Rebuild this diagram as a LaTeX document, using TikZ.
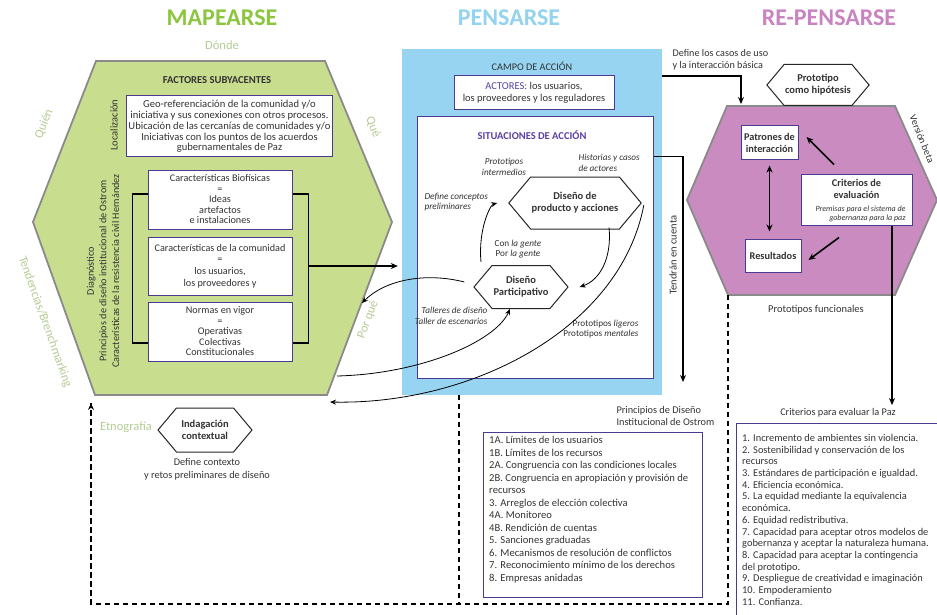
\documentclass[tikz,border=0pt]{standalone}
\usepackage{fontspec}
\setmainfont{Carlito}
\usetikzlibrary{positioning,arrows.meta,shapes.symbols}

\definecolor{mapgreen}{HTML}{8CC63F}
\definecolor{pengblue}{HTML}{93D3EF}
\definecolor{repink}{HTML}{C983C1}
\definecolor{hexgreen}{HTML}{C8DE8E}
\definecolor{fieldblue}{HTML}{96D4F1}
\definecolor{hexpurple}{HTML}{C98BC0}
\definecolor{softgreen}{HTML}{B5CB94}
\definecolor{boxline}{HTML}{4B3A92}
\definecolor{labelpurple}{HTML}{5B40A3}
\definecolor{inktext}{HTML}{333333}
\definecolor{hexline}{HTML}{8A8A8A}

\newcommand{\setfs}[2]{\fontsize{#1}{#2}\selectfont\lineskiplimit=-20pt\relax}

\begin{document}
\begin{tikzpicture}[
  x=1pt, y=-1pt,
  every node/.style={text=inktext, font=\setfs{10.5}{12}},
  title/.style={font=\setfs{24}{26}\bfseries},
  side/.style={text=softgreen, font=\setfs{12.5}{14}},
  bighex/.style={draw=hexline, line width=1.8pt, line join=miter},
  infobox/.style={draw=boxline, fill=white, line width=1pt, align=center, inner sep=2pt},
  hexnode/.style={signal, signal to=east and west, signal pointer angle=100,
    draw=black!85, fill=white, line width=1pt, align=center, inner sep=1pt,
    font=\setfs{10.5}{12}\bfseries},
  note/.style={font=\setfs{9.2}{10.5}\itshape},
  listtext/.style={align=left, anchor=north west, inner sep=0pt, font=\setfs{10.6}{12.5}},
  flow/.style={line width=1.6pt, -{Stealth[length=7pt,width=6pt]}},
  curve/.style={line width=0.8pt, -{Stealth[length=6pt,width=5pt]}},
  dashflow/.style={line width=1.6pt, dash pattern=on 5pt off 4pt},
  ]
  \useasboundingbox (0,0) rectangle (937,615);

  % titles
  \node[title, text=mapgreen] (maptitle) at (222,18) {MAPEARSE};
  \node[title, text=pengblue] (pentitle) at (509,18) {PENSARSE};
  \node[title, text=repink] (retitle) at (829,18) {RE-PENSARSE};

  % mapearse
  \coordinate (lt) at (96,61);
  \coordinate (rt) at (325,61);
  \coordinate (rm) at (392,222);
  \coordinate (rb) at (327,395);
  \coordinate (lb) at (95,395);
  \coordinate (lm) at (33,222);
  \draw[bighex, fill=hexgreen] (lt) -- (rt) -- (rm) -- (rb) -- (lb) -- (lm) -- cycle;

  \node[side] (donde) at (222,45) {Dónde};
  \node[side, rotate=68.6] (quien) at (44,124) {Quién};
  \node[side, rotate=-67.4] (que) at (373,127) {Qué};
  \node[side, rotate=69.4] (porque) at (368,320) {Por qué};
  \node[side, rotate=-70.3] (tendencias) at (45,322) {Tendencias/Brenchmarking};
  \node[side] (etno) at (126,427) {Etnografía};

  \node[font=\setfs{10.6}{12}\bfseries] (factores) at (217,80) {FACTORES SUBYACENTES};
  \node[rotate=90] (local) at (114,125) {Localización};
  \node[infobox, minimum width=203pt, minimum height=61pt, font=\setfs{10.6}{10.8}] (geo) at (229.5,126.5)
    {Geo-referenciación de la comunidad y/o\\iniciativa y sus conexiones con otros procesos.\\Ubicación de las cercanías de comunidades y/o\\Iniciativas con los puntos de los acuerdos\\gubernamentales de Paz};
  \node[infobox, minimum width=144pt, minimum height=59pt, font=\setfs{10.2}{10.5}] (bio) at (220,199.5)
    {Características Biofísicas\\=\\Ideas\\artefactos\\e instalaciones};
  \node[infobox, minimum width=144pt, minimum height=58pt, font=\setfs{10.2}{11.8}] (comunidad) at (220,266)
    {Características de la comunidad\\=\\los usuarios,\\los proveedores y};
  \node[infobox, minimum width=144pt, minimum height=59pt, font=\setfs{10.2}{10.5}] (normas) at (220,331.5)
    {Normas en vigor\\=\\Operativas\\Colectivas\\Constitucionales};
  \node[rotate=90, align=center, font=\setfs{10.2}{12.7}] (diag) at (103,271)
    {Diagnóstico\\Principios de diseño institucional de Ostrom\\Características de la resistencia civil Hernández};

  \draw[line width=1.6pt] ([yshift=5.5pt]bio.west) -- ++(-15,0) coordinate (brL) |- ([yshift=-11.5pt]normas.west);
  \draw[line width=1.6pt] ([yshift=5.5pt]bio.east) -- ++(16,0) coordinate (brR) |- ([yshift=-11.5pt]normas.east);

  % pensarse
  \node[fill=fieldblue, minimum width=260pt, minimum height=346pt, inner sep=0pt] (campo) at (532,222) {};
  \draw[flow, shorten >=4pt] (brR |- comunidad.east) -- (brR |- comunidad.east -| campo.west);
  \node[font=\setfs{10.2}{12}] (campotitle) at (532,66) {CAMPO DE ACCIÓN};
  \node[infobox, minimum width=160pt, minimum height=34pt, font=\setfs{10.5}{12.5}] (actores) at (534,93)
    {\textcolor{labelpurple}{ACTORES:} los usuarios,\\los proveedores y los reguladores};
  \node[infobox, minimum width=236pt, minimum height=261pt] (situ) at (535,247.5) {};
  \node[text=labelpurple, font=\setfs{10.5}{12}\bfseries] (situtitle) at (532,135) {SITUACIONES DE ACCIÓN};

  \node[hexnode, minimum width=107pt, minimum height=52pt] (producto) at (575,203) {Diseño de\\producto y acciones};
  \node[hexnode, minimum width=94pt, minimum height=43pt] (partic) at (521,287) {Diseño\\Participativo};

  \node[note, align=center] (intermedios) at (504,167) {Prototipos\\intermedios};
  \node[note, align=left, anchor=west] (historias) at (575,163) {Historias y casos\\de actores};
  \node[note, align=left, anchor=west] (conceptos) at (421,202) {Define conceptos\\preliminares};
  \node[note, align=center] (gente) at (518,249) {{\upshape Con} la gente\\{\upshape Por} la gente};
  \node[note, align=right, anchor=east] (talleres) at (491,316) {Talleres de diseño\\Taller de escenarios};
  \node[note, align=right, anchor=east] (ligeros) at (642,329) {{\upshape Prototipos} ligeros\\{\upshape Prototipos} mentales};

  \coordinate (pqedge) at (362,303);
  \coordinate (lowedge) at (337,376);
  \coordinate (baseedge) at (330,402);
  \draw[curve] ([xshift=-9pt,yshift=5pt]partic.west) .. controls (425,272) and (385,280) .. (pqedge);
  \draw[curve] (lowedge) .. controls (420,374) and (495,342) .. ([xshift=-11pt]partic.south);
  \draw[curve] ([xshift=2pt,yshift=-2pt]producto.east) .. controls (620,330) and (470,405) .. (baseedge);
  \draw[curve] ([xshift=-40pt,yshift=3pt]partic.north) .. controls (478,230) and (490,205) .. ([xshift=-11pt]producto.west);
  \draw[curve] ([xshift=34pt,yshift=2pt]producto.south) .. controls (612,258) and (600,280) .. ([xshift=11pt]partic.east);

  % re-pensarse
  \coordinate (qt) at (727,106);
  \coordinate (qr) at (895,106);
  \coordinate (qm) at (937,200);
  \coordinate (qb) at (895,295);
  \coordinate (ql) at (728,295);
  \coordinate (qn) at (687,200);
  \draw[bighex, fill=hexpurple] (qt) -- (qr) -- (qm) -- (qb) -- (ql) -- (qn) -- cycle;
  \node[rotate=-68, font=\setfs{10}{12}] (beta) at (922,139) {Versión beta};
  \node[hexnode, minimum width=89pt, minimum height=41pt] (proto) at (818,85) {Prototipo\\como hipótesis};

  \node[infobox, minimum width=57pt, minimum height=34pt, font=\setfs{10.3}{11.8}\bfseries] (patrones) at (769.5,143) {Patrones de\\interacción};
  \node[infobox, minimum width=111pt, minimum height=51pt] (criterios) at (856.5,199.5) {};
  \node[align=center, font=\setfs{10.3}{11.8}\bfseries] (critname) at (856.5,189) {Criterios de\\evaluación};
  \node[align=right, anchor=east, font=\setfs{8}{9.8}\itshape] (premisas) at (909,214) {Premisas para el sistema de\\gobernanza para la paz};
  \node[infobox, minimum width=56pt, minimum height=33pt, font=\setfs{10.3}{11.8}\bfseries] (resultados) at (773,255.5) {Resultados};

  \draw[line width=1.6pt, {Stealth[length=7pt,width=6pt]}-{Stealth[length=7pt,width=6pt]}, shorten <=5pt, shorten >=7pt]
    (patrones.south) -- (patrones.south |- resultados.north);
  \draw[flow] ([xshift=-22.5pt,yshift=9pt]criterios.north) -- ([xshift=8pt,yshift=6pt]patrones.east);
  \draw[flow] ([xshift=-17.5pt,yshift=-12pt]criterios.south) -- ([xshift=7pt,yshift=-4.5pt]resultados.east);
  \node (funcionales) at (816,310) {Prototipos funcionales};

  \coordinate (qin) at (741,104);
  \coordinate (tendend) at (683,382);
  \node[font=\setfs{10.2}{12.5}, align=left, anchor=west] (casos) at (669,60) {Define los casos de uso\\y la interacción básica};
  \draw[flow] ([yshift=-27pt]campo.north east) -| (qin);
  \draw[flow] ([yshift=-40pt]situ.north east) -| (tendend);
  \node[rotate=90] (tendran) at (673,255) {Tendrán en cuenta};

  % mapearse bottom
  \node[hexnode, minimum width=94pt, minimum height=44pt] (indag) at (205,430) {Indagación\\contextual};
  \node[align=center, font=\setfs{10.3}{13}] (contexto) at (207,469) {Define contexto\\y retos preliminares de diseño};

  % lists
  \node[align=left, anchor=west, font=\setfs{10.3}{12.5}] (ostromlabel) at (613,416) {Principios de Diseño\\Institucional de Ostrom};
  \node[draw=boxline, line width=1pt, minimum width=219pt, minimum height=165pt, anchor=north west, inner sep=0pt] (ostrombox) at (483,432) {};
  \node[listtext] (ostromlist) at (489,436)
    {1A. Límites de los usuarios\\1B. Límites de los recursos\\2A. Congruencia con las condiciones locales\\2B. Congruencia en apropiación y provisión de\\recursos\\3. Arreglos de elección colectiva\\4A. Monitoreo\\4B. Rendición de cuentas\\5. Sanciones graduadas\\6. Mecanismos de resolución de conflictos\\7. Reconocimiento mínimo de los derechos\\8. Empresas anidadas};

  \node[font=\setfs{10.3}{12}] (pazlabel) at (838,413) {Criterios para evaluar la Paz};
  \node[draw=boxline, line width=1pt, minimum width=206pt, minimum height=200pt, anchor=north west, inner sep=0pt] (pazbox) at (736,423) {};
  \node[listtext, font=\setfs{10.4}{11.7}] (pazlist) at (742,434)
    {1. Incremento de ambientes sin violencia.\\2. Sostenibilidad y conservación de los\\recursos\\3. Estándares de participación e igualdad.\\4. Eficiencia económica.\\5. La equidad mediante la equivalencia\\económica.\\6. Equidad redistributiva.\\7. Capacidad para aceptar otros modelos de\\gobernanza y aceptar la naturaleza humana.\\8. Capacidad para aceptar la contingencia\\del prototipo.\\9. Despliegue de creatividad e imaginación\\10. Empoderamiento\\11. Confianza.};
  \draw[flow] ([xshift=35.5pt]criterios.south) -- ([xshift=35.5pt]criterios.south |- pazlabel.north);

  % feedback
  \coordinate (backcorner) at (91,604);
  \coordinate (backtip) at (91,403);
  \draw[dashflow] (ql) -- (ql |- backcorner) -- (backcorner) -- (backtip);
  \draw[dashflow, -{Stealth[length=7pt,width=6pt]}] (backcorner) -- (backtip);
  \draw[dashflow] ([xshift=-73pt]campo.south) -- ([xshift=-73pt]campo.south |- backcorner);
\end{tikzpicture}
\end{document}
